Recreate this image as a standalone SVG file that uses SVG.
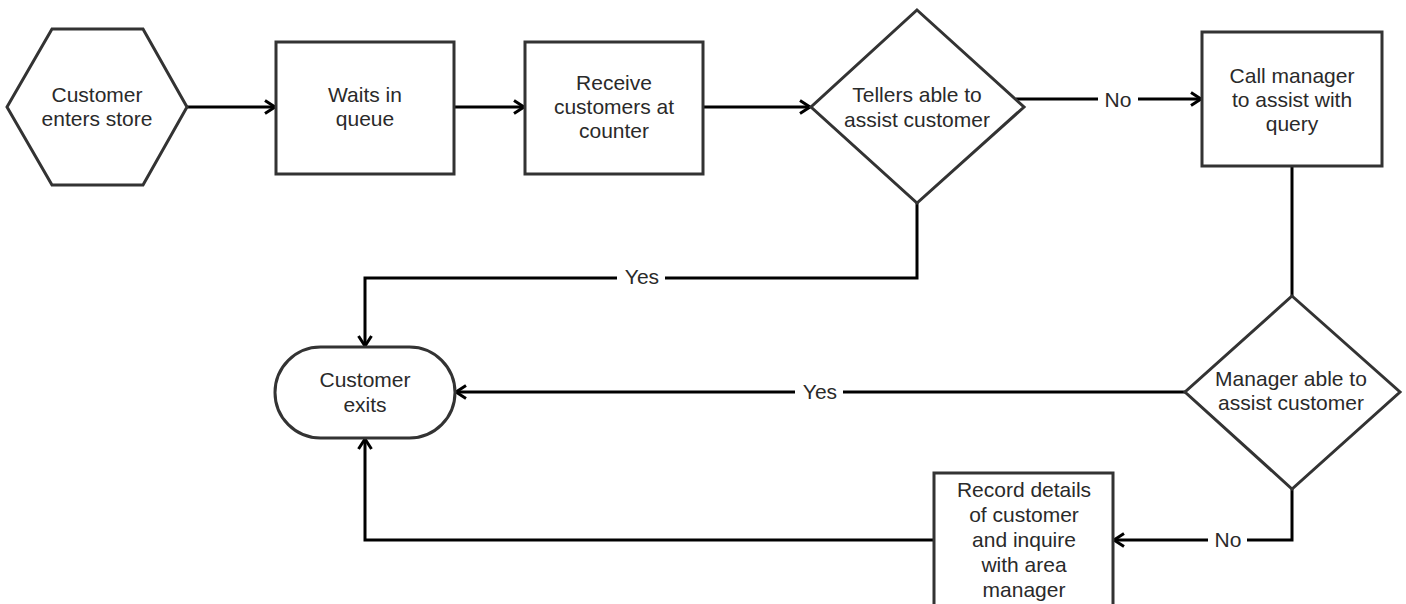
<svg xmlns="http://www.w3.org/2000/svg" width="1406" height="604" viewBox="0 0 1406 604">
  <style>
    .shape { fill: #ffffff; stroke: #333333; stroke-width: 3; }
    .edge { fill: none; stroke: #000000; stroke-width: 3; }
    .txt { font-family: "Liberation Sans", Arial, sans-serif; font-size: 21px; fill: #2a2a2a; text-anchor: middle; }
    .lblbg { fill: #ffffff; }
  </style>
  <defs>
    <marker id="open-arrow" viewBox="0 0 16 16" refX="13" refY="8" markerWidth="16" markerHeight="16" markerUnits="userSpaceOnUse" orient="auto">
      <path d="M3,1.5 L13,8 L3,14.5" fill="none" stroke="#000000" stroke-width="3"/>
    </marker>
  </defs>

  <rect width="1406" height="604" fill="#ffffff"/>

  <!-- connectors -->
  <g id="connectors">
    <path class="edge" d="M187,107 H275" marker-end="url(#open-arrow)"/>
    <path class="edge" d="M454,107 H524" marker-end="url(#open-arrow)"/>
    <path class="edge" d="M703,107 H810" marker-end="url(#open-arrow)"/>
    <path class="edge" d="M1016,99 H1201" marker-end="url(#open-arrow)"/>
    <path class="edge" d="M917,203 V278 H365 V346" marker-end="url(#open-arrow)"/>
    <path class="edge" d="M1292,166 V296"/>
    <path class="edge" d="M1185,392 H456" marker-end="url(#open-arrow)"/>
    <path class="edge" d="M1292,489 V540 H1114" marker-end="url(#open-arrow)"/>
    <path class="edge" d="M934,540 H365 V439" marker-end="url(#open-arrow)"/>

    <!-- edge labels -->
    <rect class="lblbg" x="1098" y="88" width="40" height="22"/>
    <text class="txt" x="1118" y="107">No</text>
    <rect class="lblbg" x="617" y="267" width="48" height="22"/>
    <text class="txt" x="642" y="284">Yes</text>
    <rect class="lblbg" x="795" y="381" width="48" height="22"/>
    <text class="txt" x="820" y="399">Yes</text>
    <rect class="lblbg" x="1208" y="529" width="39" height="22"/>
    <text class="txt" x="1228" y="547">No</text>
  </g>

  <!-- start -->
  <g id="customer-enters-store">
    <polygon class="shape" points="7,107 52,29 143,29 187,107 143,185 52,185"/>
    <text class="txt" x="97" y="102">Customer</text>
    <text class="txt" x="97" y="126">enters store</text>
  </g>

  <g id="waits-in-queue">
    <rect class="shape" x="276" y="42" width="178" height="132"/>
    <text class="txt" x="365" y="102">Waits in</text>
    <text class="txt" x="365" y="126">queue</text>
  </g>

  <g id="receive-customers">
    <rect class="shape" x="525" y="42" width="178" height="132"/>
    <text class="txt" x="614" y="90">Receive</text>
    <text class="txt" x="614" y="114">customers at</text>
    <text class="txt" x="614" y="138">counter</text>
  </g>

  <g id="tellers-decision">
    <polygon class="shape" points="917,10 1024,107 917,203 811,107"/>
    <text class="txt" x="917" y="102">Tellers able to</text>
    <text class="txt" x="917" y="127">assist customer</text>
  </g>

  <g id="call-manager">
    <rect class="shape" x="1202" y="32" width="180" height="134"/>
    <text class="txt" x="1292" y="83">Call manager</text>
    <text class="txt" x="1292" y="107">to assist with</text>
    <text class="txt" x="1292" y="131">query</text>
  </g>

  <g id="manager-decision">
    <polygon class="shape" points="1292,296 1400,392 1292,489 1185,392"/>
    <text class="txt" x="1291" y="386">Manager able to</text>
    <text class="txt" x="1291" y="410">assist customer</text>
  </g>

  <!-- end -->
  <g id="customer-exits">
    <rect class="shape" x="275" y="347" width="180" height="91" rx="45.5" ry="45.5"/>
    <text class="txt" x="365" y="387">Customer</text>
    <text class="txt" x="365" y="412">exits</text>
  </g>

  <g id="record-details">
    <rect class="shape" x="934" y="473" width="179" height="150"/>
    <text class="txt" x="1024" y="497">Record details</text>
    <text class="txt" x="1024" y="522">of customer</text>
    <text class="txt" x="1024" y="547">and inquire</text>
    <text class="txt" x="1024" y="572">with area</text>
    <text class="txt" x="1024" y="597">manager</text>
  </g>
</svg>
